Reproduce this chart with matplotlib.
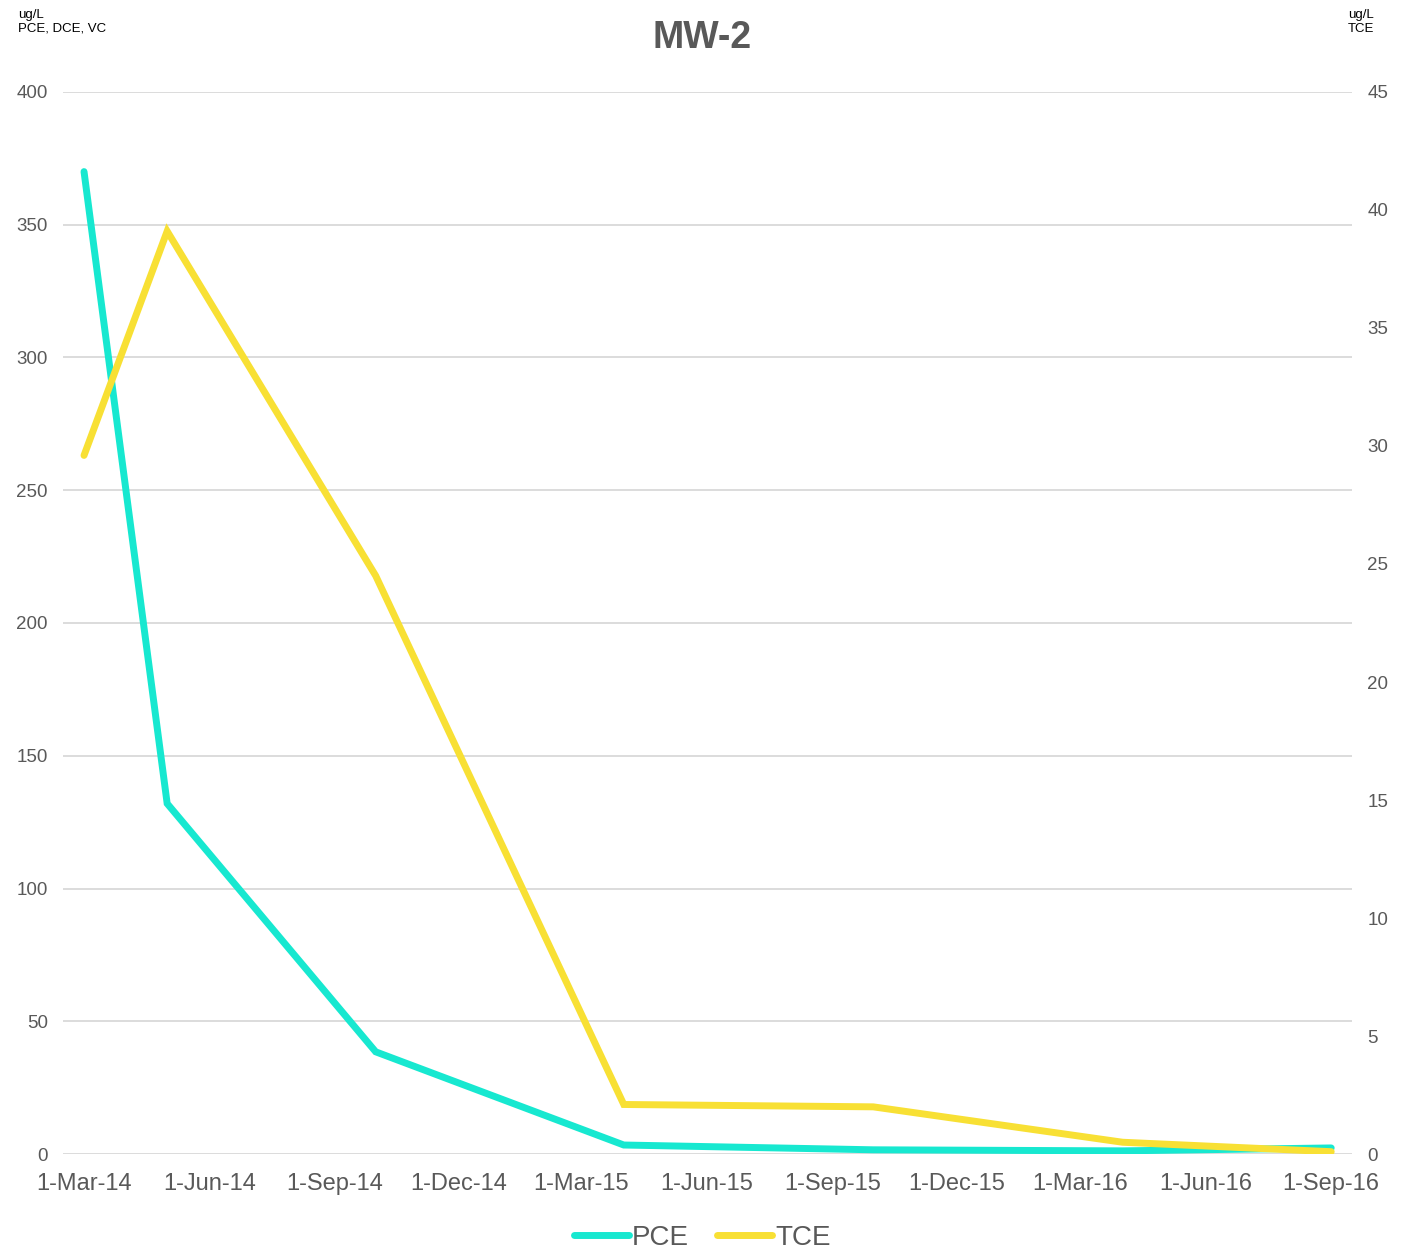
import matplotlib.pyplot as plt
import matplotlib.dates as mdates
import numpy as np
from datetime import datetime, timedelta

plt.rcParams['font.family'] = ['Liberation Sans', 'DejaVu Sans']

# sampling dates and concentrations (ug/L)
dates = ['2014-03-01', '2014-05-01', '2014-10-01', '2015-04-01',
         '2015-10-01', '2016-04-01', '2016-09-01']
pce = [370, 132, 38.5, 3.4, 1.6, 1.2, 2.3]
tce = [29.6, 39.1, 24.5, 2.1, 2.0, 0.5, 0.1]

x = [datetime.strptime(d, '%Y-%m-%d') for d in dates]
gray = '#595959'

fig = plt.figure(figsize=(14.1, 12.51), dpi=100)
ax = fig.add_axes([0.0447, 0.0775, 0.9143, 0.849])
ax2 = ax.twinx()

l1, = ax.plot(x, pce, color='#17e8d0', lw=5, solid_capstyle='round',
              solid_joinstyle='miter', label='PCE', zorder=3)
l2, = ax2.plot(x, tce, color='#f8e034', lw=5, solid_capstyle='round',
               solid_joinstyle='miter', label='TCE', zorder=3)

ax.set_ylim(0, 400)
ax.set_yticks(np.arange(0, 401, 50))
ax2.set_ylim(0, 45)
ax2.set_yticks(np.arange(0, 46, 5))

pad = timedelta(days=15.4)
ax.set_xlim(datetime(2014, 3, 1) - pad, datetime(2016, 9, 1) + pad)
ticks = [datetime(2014 + (2 + 3 * i) // 12, (2 + 3 * i) % 12 + 1, 1) for i in range(11)]
ax.set_xticks(ticks)
ax.set_xticklabels([f"1-{t.strftime('%b-%y')}" for t in ticks])

ax.grid(axis='y', color='#d9d9d9', lw=1.3)
ax.set_axisbelow(True)
for a in (ax, ax2):
    for s in a.spines.values():
        s.set_visible(False)
    a.tick_params(length=0, colors=gray)
ax.tick_params(axis='y', labelsize=13.5, pad=11)
ax2.tick_params(axis='y', labelsize=13.5, pad=11)
ax.tick_params(axis='x', labelsize=17, pad=14)

fig.text(0.498, 0.97, 'MW-2', ha='center', va='center', fontsize=27,
         fontweight='bold', color=gray)
fig.text(0.013, 0.9825, 'ug/L\nPCE, DCE, VC', ha='left', va='center',
         fontsize=9.5, color='black', linespacing=1.2)
fig.text(0.956, 0.9825, 'ug/L\nTCE', ha='left', va='center',
         fontsize=9.5, color='black', linespacing=1.2)

fig.legend(handles=[l1, l2], loc='center', bbox_to_anchor=(0.498, 0.0105),
           ncol=2, frameon=False, fontsize=20, handlelength=2.0,
           handletextpad=0.1, columnspacing=1.0, labelcolor=gray)

fig.savefig('out.png', dpi=100)
